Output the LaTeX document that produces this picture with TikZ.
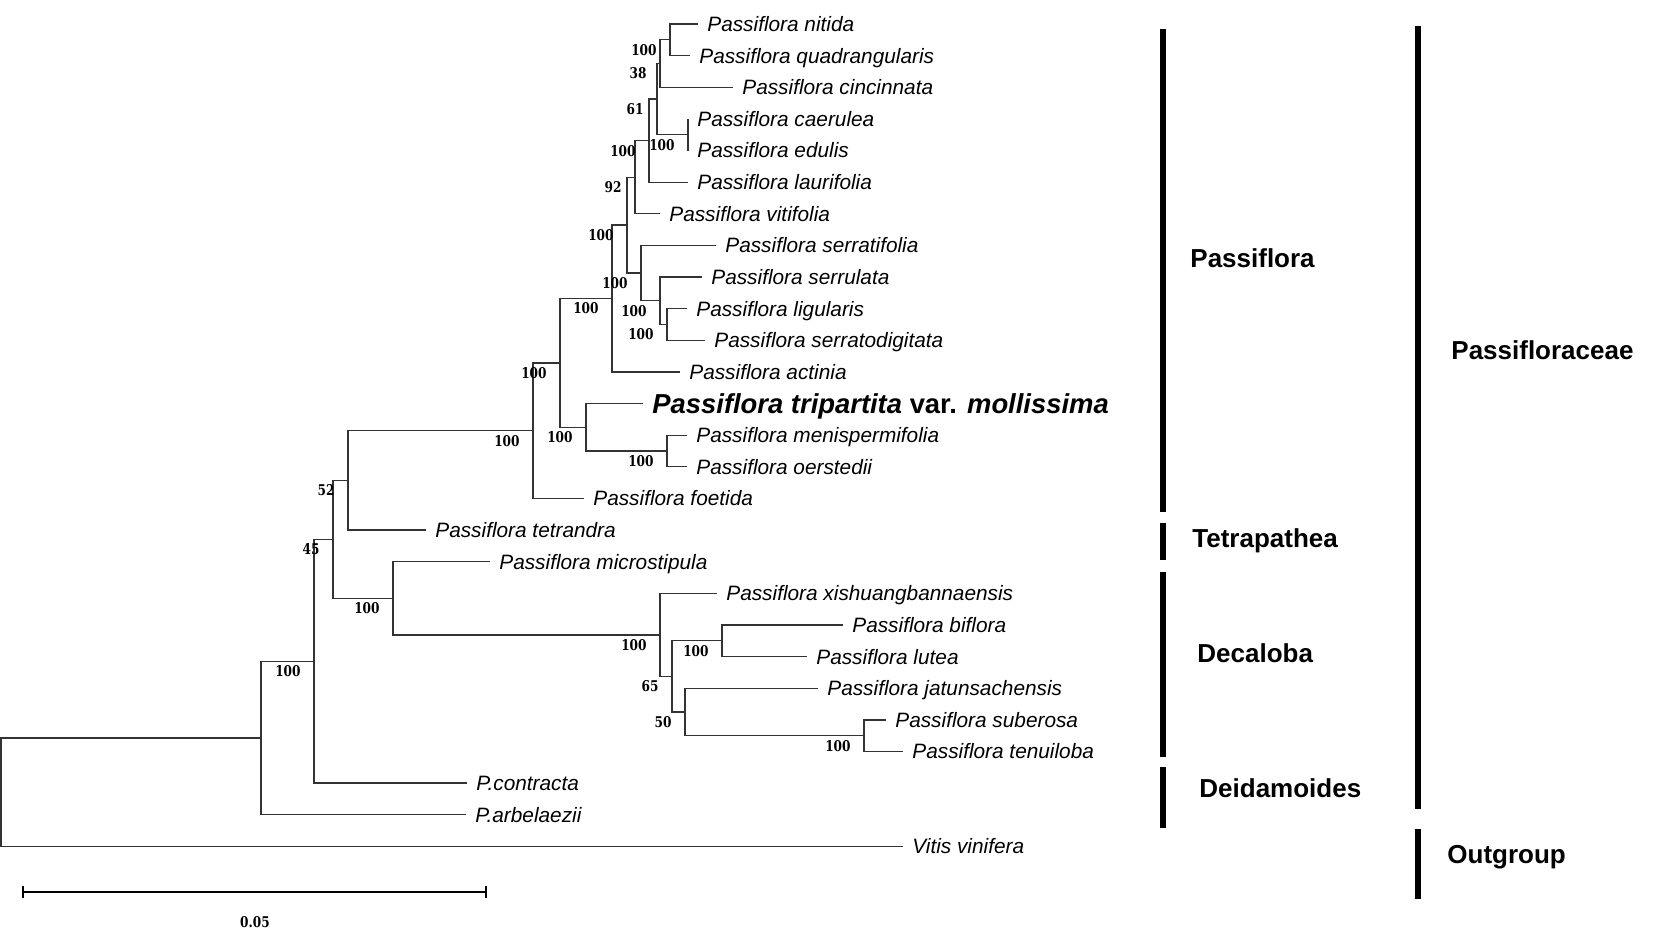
\documentclass[tikz,border=0pt]{standalone}
\usepackage{fontspec}
\setmainfont{Liberation Sans}
\newfontfamily\bootfont[FakeStretch=0.82]{DejaVu Serif}
\usetikzlibrary{arrows.meta}

\tikzset{
  branch/.style={line width=0.65pt,color=black!80},
  leaf/.style={anchor=west,inner xsep=4.5pt,inner ysep=0pt,text height=7.4pt,text depth=0pt,
    font=\itshape\fontsize{10.4}{12}\selectfont},
  bootnum/.style={inner sep=0pt,font=\bootfont\bfseries\fontsize{7.4}{8}\selectfont},
  boot/.style={bootnum,anchor=east,xshift=-6.5pt,yshift=-5pt},
  clade/.style={line width=2.7pt},
  cladename/.style={anchor=west,inner sep=0pt,font=\bfseries\fontsize{13}{15}\selectfont}
}

\begin{document}
\begin{tikzpicture}[x=0.5pt,y=-15.815pt]
\useasboundingbox (0,-0.759) rectangle (1654,28.675);

% leaves: name / branch end / row / text
\foreach \n/\x/\r/\t in {nitida/698/0/Passiflora nitida,
  quadrangularis/690/1/Passiflora quadrangularis,
  cincinnata/733/2/Passiflora cincinnata,
  caerulea/688/3/Passiflora caerulea,
  edulis/688/4/Passiflora edulis,
  laurifolia/688/5/Passiflora laurifolia,
  vitifolia/660/6/Passiflora vitifolia,
  serratifolia/716/7/Passiflora serratifolia,
  serrulata/702/8/Passiflora serrulata,
  ligularis/687/9/Passiflora ligularis,
  serratodigitata/705/10/Passiflora serratodigitata,
  actinia/680/11/Passiflora actinia,
  menispermifolia/687/13/Passiflora menispermifolia,
  oerstedii/687/14/Passiflora oerstedii,
  foetida/584/15/Passiflora foetida,
  tetrandra/426/16/Passiflora tetrandra,
  microstipula/490/17/Passiflora microstipula,
  xishuangbannaensis/717/18/Passiflora xishuangbannaensis,
  biflora/843/19/Passiflora biflora,
  lutea/807/20/Passiflora lutea,
  jatunsachensis/818/21/Passiflora jatunsachensis,
  suberosa/886/22/Passiflora suberosa,
  tenuiloba/903/23/Passiflora tenuiloba,
  contracta/467/24/P.contracta,
  arbelaezii/466/25/P.arbelaezii,
  vitis/903/26/Vitis vinifera}
{
	\node[leaf] (\n) at (\x,\r) {\t};
}
\node[leaf,font=\bfseries\fontsize{13.7}{16}\selectfont,text height=9.8pt] (tripartita) at (643,12)
  {\textit{Passiflora tripartita} var. \textit{mollissima}};

% internal nodes
\foreach \n/\x/\r in {A/670/0.5, B/660/1.25, C/688/3.5, D/657/2.375, E/649/3.6875,
  F/635/4.84375, H/667/9.5, I/660/8.75, J/641/7.875, K/627/6.359, L/612/8.68,
  M/586/12.75, N/667/13.5, O/560/10.715, P/533/12.857, Q/348/14.429,
  R/864/22.5, S/685/21.75, T/722/19.5, U/672/20.625, V/660/19.3125,
  W/393/18.156, X/333/16.29, Y/314/20.15, Z/261/22.57, root/1/24.29}
{
	\coordinate (\n) at (\x,\r);
}

\draw[branch] (nitida.west) -| (A) |- (quadrangularis.west);
\draw[branch] (A) -| (B) |- (cincinnata.west);
\draw[branch] (caerulea.west) -| (C) |- (edulis.west);
\draw[branch] (B) -| (D) |- (C);
\draw[branch] (D) -| (E) |- (laurifolia.west);
\draw[branch] (E) -| (F) |- (vitifolia.west);
\draw[branch] (ligularis.west) -| (H) |- (serratodigitata.west);
\draw[branch] (serrulata.west) -| (I) |- (H);
\draw[branch] (serratifolia.west) -| (J) |- (I);
\draw[branch] (F) -| (K) |- (J);
\draw[branch] (K) -| (L) |- (actinia.west);
\draw[branch] (menispermifolia.west) -| (N) |- (oerstedii.west);
\draw[branch] (tripartita.west) -| (M) |- (N);
\draw[branch] (L) -| (O) |- (M);
\draw[branch] (O) -| (P) |- (foetida.west);
\draw[branch] (P) -| (Q) |- (tetrandra.west);
\draw[branch] (suberosa.west) -| (R) |- (tenuiloba.west);
\draw[branch] (jatunsachensis.west) -| (S) |- (R);
\draw[branch] (biflora.west) -| (T) |- (lutea.west);
\draw[branch] (T) -| (U) |- (S);
\draw[branch] (xishuangbannaensis.west) -| (V) |- (U);
\draw[branch] (microstipula.west) -| (W) |- (V);
\draw[branch] (Q) -| (X) |- (W);
\draw[branch] (X) -| (Y) |- (contracta.west);
\draw[branch] (Y) -| (Z) |- (arbelaezii.west);
\draw[branch] (Z) -| (root) |- (vitis.west);

% bootstrap values
\foreach \n/\v in {A/100, B/38, C/100, D/61, E/100, F/92, H/100, I/100, J/100, K/100,
  L/100, M/100, N/100, O/100, P/100, Q/52, R/100, S/50, T/100, U/65, V/100,
  W/100, X/45, Y/100}
{
	\node[boot] (b\n) at (\n) {\v};
}

% clade bars
\draw[clade] (1163,0.16) -- (1163,15.43);
\node[cladename] (passiflora) at (1190,7.40) {Passiflora};
\draw[clade] (1163,15.78) -- (1163,16.95);
\node[cladename] (tetrapathea) at (1192,16.35) {Tetrapathea};
\draw[clade] (1163,17.33) -- (1163,23.17);
\node[cladename] (decaloba) at (1197,19.89) {Decaloba};
\draw[clade] (1163,23.49) -- (1163,25.42);
\node[cladename] (deidamoides) at (1199,24.15) {Deidamoides};
\draw[clade] (1418,0.06) -- (1418,24.82);
\node[cladename] (passifloraceae) at (1451,10.31) {Passifloraceae};
\draw[clade] (1418,25.45) -- (1418,27.66);
\node[cladename] (outgroup) at (1447,26.34) {Outgroup};

% scale bar
\coordinate (s0) at (22,27.44);
\coordinate (s1) at (487,27.44);
\draw[line width=1pt,{Bar[width=6pt]}-{Bar[width=6pt]}] (s0) -- (s1);
\node[bootnum] (scalelabel) at (255,28.40) {0.05};
\end{tikzpicture}
\end{document}
